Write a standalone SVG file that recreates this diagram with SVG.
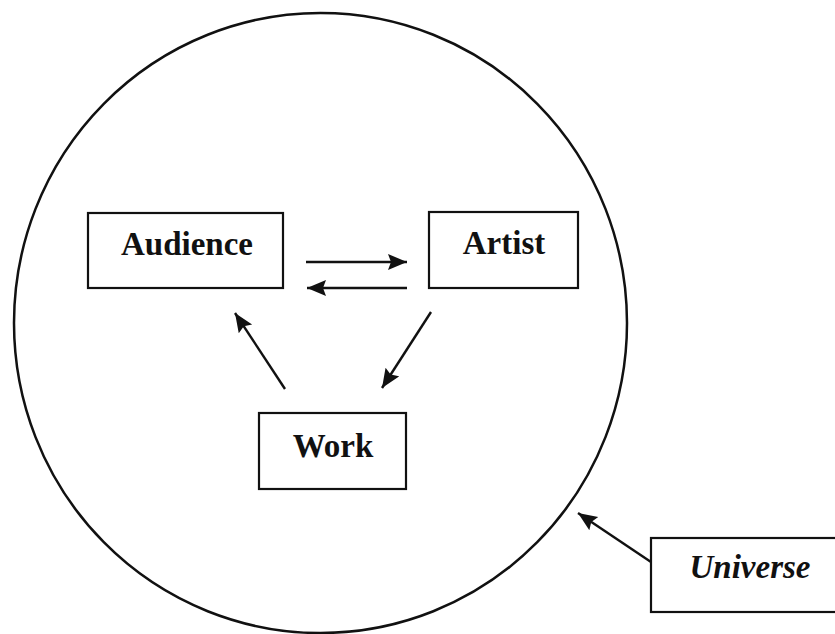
<svg xmlns="http://www.w3.org/2000/svg" width="835" height="634" viewBox="0 0 835 634">
<defs>
<style>
.box{fill:#fff;stroke:#111;stroke-width:2.2}
.lbl{font-family:"Liberation Serif","Times New Roman",serif;font-weight:bold;font-size:33px;fill:#111;text-anchor:middle}
.con{stroke:#111;stroke-width:2.4;fill:none}
</style>
<marker id="ah" markerUnits="userSpaceOnUse" markerWidth="22" markerHeight="18" refX="19" refY="8" orient="auto">
<path d="M0,0 L19,8 L0,16 L3,8 z" fill="#111"/>
</marker>
</defs>
<rect width="835" height="634" fill="#fff"/>
<g id="universe-circle">
<ellipse cx="320.5" cy="323" rx="306.5" ry="310" fill="none" stroke="#111" stroke-width="2.5"/>
</g>
<g id="connectors">
<line class="con" x1="306" y1="262" x2="407" y2="262" marker-end="url(#ah)"/>
<line class="con" x1="407" y1="288" x2="307" y2="288" marker-end="url(#ah)"/>
<line class="con" x1="285" y1="389" x2="235" y2="313" marker-end="url(#ah)"/>
<line class="con" x1="431" y1="312" x2="382" y2="388" marker-end="url(#ah)"/>
<line class="con" x1="651" y1="562" x2="578" y2="513" marker-end="url(#ah)"/>
</g>
<g id="audience">
<rect class="box" x="88" y="213" width="195" height="75"/>
<text class="lbl" x="187" y="255">Audience</text>
</g>
<g id="artist">
<rect class="box" x="429" y="212" width="149" height="76"/>
<text class="lbl" x="504" y="254">Artist</text>
</g>
<g id="work">
<rect class="box" x="259" y="413" width="147" height="76"/>
<text class="lbl" x="333" y="457">Work</text>
</g>
<g id="universe">
<rect class="box" x="651" y="538" width="190" height="74"/>
<text class="lbl" x="750" y="578" font-style="italic">Universe</text>
</g>
</svg>
